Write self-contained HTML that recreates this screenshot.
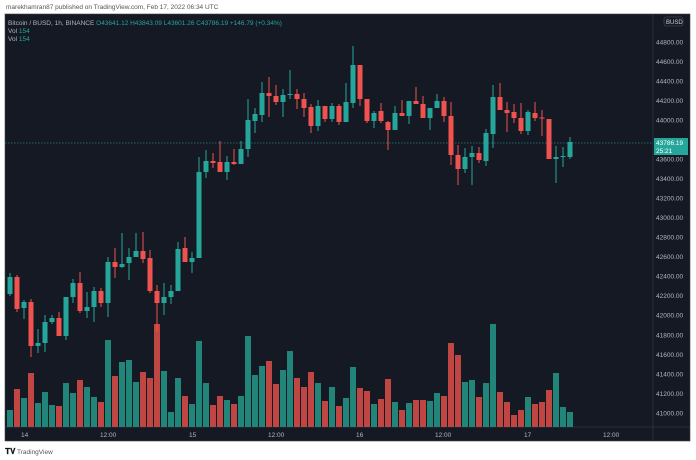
<!DOCTYPE html>
<html><head><meta charset="utf-8"><style>
html,body{margin:0;padding:0;background:#fff;width:696px;height:460px;overflow:hidden;font-family:"Liberation Sans",sans-serif}
svg{position:absolute;left:0;top:0}
</style></head><body>
<svg id="s" width="696" height="460" xmlns="http://www.w3.org/2000/svg">
<text x="6" y="9" font-size="6.5" fill="#555">marekhamran87 published on TradingView.com, Feb 17, 2022 06:34 UTC</text>
<rect x="5" y="14" width="685" height="427" fill="#151924" stroke="#444" stroke-width="0.6"/>
<line x1="653" y1="14" x2="653" y2="441" stroke="#2a2e39" stroke-width="1"/>
<line x1="5" y1="427" x2="690" y2="427" stroke="#2a2e39" stroke-width="1"/>
<g id="grid"></g>
<g id="vol"></g>
<line x1="5" y1="143" x2="653" y2="143" stroke="#26a69a" stroke-width="0.7" stroke-dasharray="1.5,1.5" opacity="0.7"/>
<g id="c"></g>
<g id="ax" font-size="6.5" fill="#b2b5be"></g>
<rect x="664" y="17" width="19" height="9" rx="2" fill="#151924" stroke="#555" stroke-width="0.6"/>
<text x="666" y="24" font-size="6" fill="#d1d4dc">BUSD</text>
<rect x="654" y="138" width="34" height="17" fill="#26a69a"/>
<text x="656" y="145" font-size="6.5" fill="#fff">43786.19</text>
<text x="656" y="153" font-size="6.5" fill="#fff">25:21</text>
<text x="8" y="25" font-size="6.5" fill="#b2b5be">Bitcoin / BUSD, 1h, BINANCE <tspan fill="#26a69a">O43641.12 H43843.09 L43601.26 C43786.19 +146.79 (+0.34%)</tspan></text>
<text x="8" y="33" font-size="6.5" fill="#b2b5be">Vol <tspan fill="#26a69a">154</tspan></text>
<text x="8" y="41" font-size="6.5" fill="#b2b5be">Vol <tspan fill="#26a69a">154</tspan></text>
<g font-size="6.5" fill="#b2b5be">
<text x="21" y="437">14</text><text x="100" y="437">12:00</text><text x="189" y="437">15</text><text x="268" y="437">12:00</text><text x="356" y="437">16</text><text x="435" y="437">12:00</text><text x="524" y="437">17</text><text x="603" y="437">12:00</text>
</g>
<text x="5" y="454" font-size="8" font-weight="bold" fill="#131722">𝐓𝐕</text>
<text x="17" y="454" font-size="6.5" fill="#555">TradingView</text>
</svg>
<script>
var NS="http://www.w3.org/2000/svg";
function el(p,t,a){var e=document.createElementNS(NS,t);for(var k in a)e.setAttribute(k,a[k]);document.getElementById(p).appendChild(e);return e;}
// price axis
for(var i=0;i<20;i++){var p=44800-i*200;var y=42+i*19.53;
 if(Math.abs(y-146)<9)continue;
 var t=el("ax","text",{x:656,y:(y+2.3).toFixed(1)});t.textContent=p+".00";}
// candles: [g/r, bodyTop, bodyBot, wickTop, wickBot]
var C=[
["g",277,294,273,296],["r",277,309,275,312],["g",302,308,300,319],["r",302,346,299,357],["g",343,346,329,353],
["g",322,343,315,352],["g",318,322,315,324],["r",318,336,312,336],["g",297,336,297,340],["g",283,297,279,303],
["r",283,311,272,313],["g",307,311,292,318],["g",291,307,287,322],["r",291,303,288,307],["g",262,303,257,317],
["r",262,267,248,278],["g",264,267,233,268],["g",257,263,248,280],["g",251,257,233,257],["r",251,259,232,263],
["r",258,291,250,293],["r",291,303,285,332],["g",297,303,283,315],["g",291,297,285,304],["g",249,291,242,291],
["r",248,262,237,262],["g",258,262,252,273],["g",172,258,157,258],["g",161,172,150,178],["r",161,163,153,168],
["r",162,172,141,172],["g",162,172,156,180],["r",162,164,149,165],["g",149,164,141,164],["g",120,149,99,157],
["g",114,121,108,133],["g",93,115,82,122],["r",93,96,77,117],["r",96,102,85,105],["g",95,102,89,117],
["g",94,95,70,99],["r",94,99,89,109],["r",99,108,93,117],["r",107,126,104,133],["g",106,126,100,131],
["r",106,119,106,122],["g",106,119,103,122],["r",106,122,104,125],["g",102,122,83,122],["g",65,103,46,108],
["r",65,99,65,106],["r",99,121,99,123],["g",113,121,111,128],["r",111,121,103,123],["r",122,130,121,150],
["g",113,130,106,130],["r",113,116,100,116],["g",101,116,101,124],["r",101,104,87,104],["r",104,118,96,118],
["g",108,118,108,130],["g",101,108,94,108],["r",101,116,97,122],["r",116,155,102,165],["r",155,169,145,185],
["g",157,169,148,173],["g",153,157,146,185],["r",153,160,147,163],["g",133,161,129,166],["g",97,134,85,148],
["r",97,110,83,110],["r",110,113,102,132],["r",112,118,104,123],["r",118,131,103,134],["g",112,131,110,135],
["r",113,118,102,121],["r",117.5,118.5,110,136],["r",119,159,119,159],["g",157,159,146,183],["g",156,157,147,167],
["g",142,157,137,159]];
var V=[410,389,398,373,403,392,405,406,383,393,380,387,397,402,340,376,362,360,382,372,378,324,371,412,378,396,404,341,383,
405,396,400,404,396,336,375,366,361,384,370,351,378,387,372,383,401,387,406,398,367,388,391,404,399,
379,402,410,403,400,400,401,393,396,343,355,382,380,397,383,324,392,402,415,410,397,404,402,390,373,407,412];
// volume colors follow approximate reference
var VC="gggrggrggrgrrggrgggrrrggg rggg".replace(/ /g,"");
for(var i=0;i<C.length;i++){
 var x=10+i*7,c=C[i],col=c[0]=="g"?"#26a69a":"#ef5350";
 var vcol=c[0]=="g"?"#22857a":"#c04643";
 if(V[i]!==undefined) el("vol","rect",{x:x-3,y:V[i],width:6,height:427-V[i],fill:vcol});
 el("c","line",{x1:x,y1:c[3],x2:x,y2:c[4],stroke:col,"stroke-width":1});
 el("c","rect",{x:x-2.5,y:c[1],width:5,height:Math.max(1,c[2]-c[1]),fill:col});
}
</script>
</body></html>
